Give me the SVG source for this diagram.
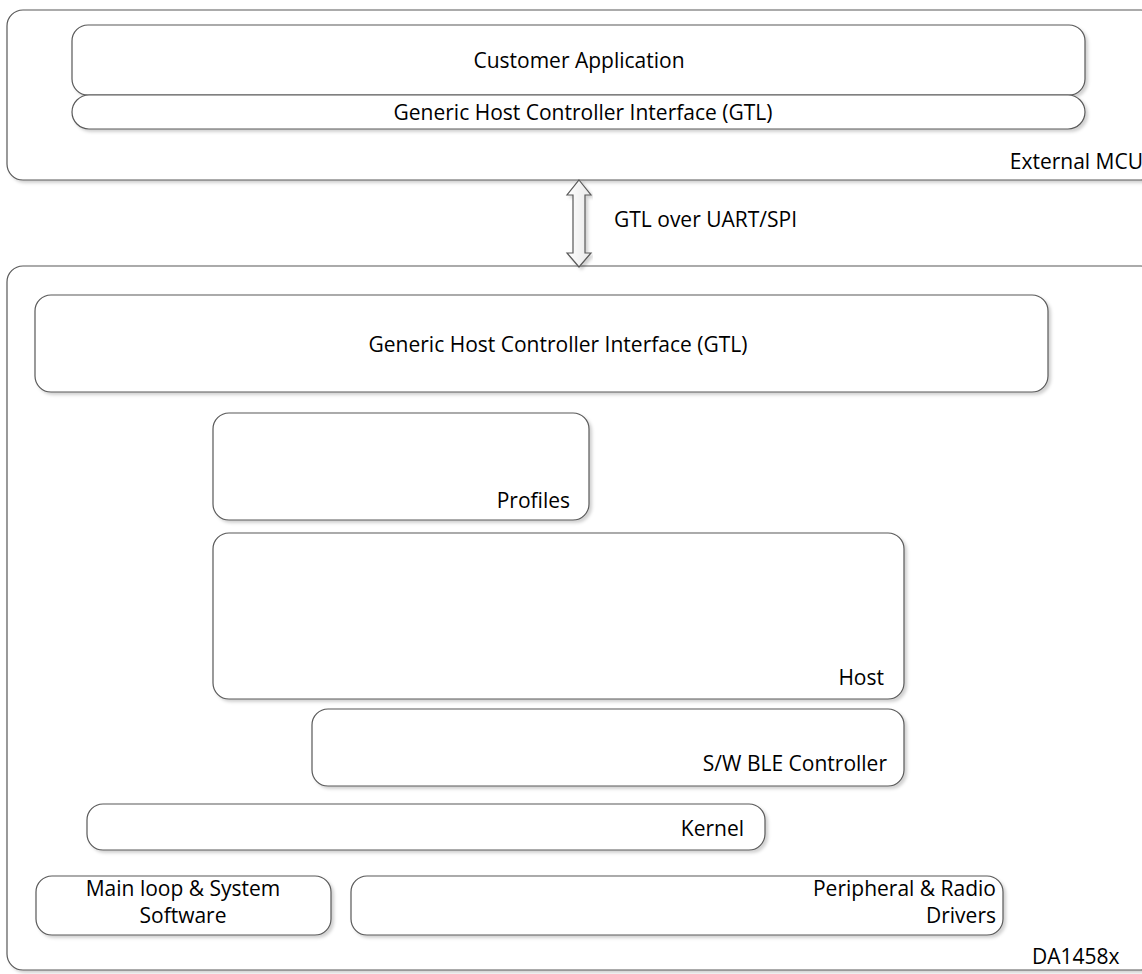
<svg xmlns="http://www.w3.org/2000/svg" width="1142" height="974" viewBox="0 0 1142 974">
<defs>
<filter id="sh" x="-5%" y="-5%" width="110%" height="120%">
<feDropShadow dx="2.5" dy="2.5" stdDeviation="1.5" flood-color="#000" flood-opacity="0.18"/>
</filter>
<linearGradient id="ag" x1="0" y1="0" x2="1" y2="0">
<stop offset="0" stop-color="#ffffff"/>
<stop offset="1" stop-color="#e8e8e8"/>
</linearGradient>
</defs>
<style>
.box{fill:#fff;stroke:#595959;stroke-width:1.2;filter:url(#sh)}
.t{font-family:"Open Sans","Liberation Sans",sans-serif;font-size:21px;fill:#000}
.m{text-anchor:middle}
.e{text-anchor:end}
</style>
<rect x="0" y="0" width="1142" height="974" fill="#fff"/>
<g id="external-mcu">
<rect class="box" x="7" y="10" width="1150" height="170" rx="16"/>
<text class="t e" x="1143" y="169">External MCU</text>
</g>
<g id="customer-application">
<rect class="box" x="72" y="25" width="1013" height="70" rx="16"/>
<text class="t m" x="579" y="68">Customer Application</text>
</g>
<g id="gtl-top">
<rect class="box" x="72" y="95" width="1013" height="34" rx="17"/>
<text class="t m" x="583" y="120">Generic Host Controller Interface (GTL)</text>
</g>
<g id="da1458x">
<rect class="box" x="7" y="266" width="1150" height="704" rx="16"/>
<text class="t" x="1032" y="964">DA1458x</text>
</g>
<g id="gtl-main">
<rect class="box" x="35" y="295" width="1013" height="97" rx="16"/>
<text class="t m" x="558" y="352">Generic Host Controller Interface (GTL)</text>
</g>
<g id="profiles">
<rect class="box" x="213" y="413" width="376" height="107" rx="16"/>
<text class="t e" x="570" y="508">Profiles</text>
</g>
<g id="host">
<rect class="box" x="213" y="533" width="691" height="166" rx="16"/>
<text class="t e" x="884" y="685">Host</text>
</g>
<g id="ble-controller">
<rect class="box" x="312" y="709" width="592" height="77" rx="16"/>
<text class="t e" x="887" y="771">S/W BLE Controller</text>
</g>
<g id="kernel">
<rect class="box" x="87" y="804" width="678" height="46" rx="16"/>
<text class="t e" x="744" y="836">Kernel</text>
</g>
<g id="main-loop">
<rect class="box" x="36" y="876" width="295" height="59" rx="16"/>
<text class="t m" x="183" y="896">Main loop &amp; System</text>
<text class="t m" x="183" y="923">Software</text>
</g>
<g id="peripheral">
<rect class="box" x="351" y="876" width="652" height="59" rx="16"/>
<text class="t e" x="996" y="896">Peripheral &amp; Radio</text>
<text class="t e" x="996" y="923">Drivers</text>
</g>
<g id="connectors">
<path d="M579,180 L591,195 L585,195 L585,253 L591,253 L579,267 L567,253 L573,253 L573,195 L567,195 Z" fill="url(#ag)" stroke="#595959" stroke-width="1.2" filter="url(#sh)"/>
<text class="t" x="614" y="227">GTL over UART/SPI</text>
</g>
</svg>
